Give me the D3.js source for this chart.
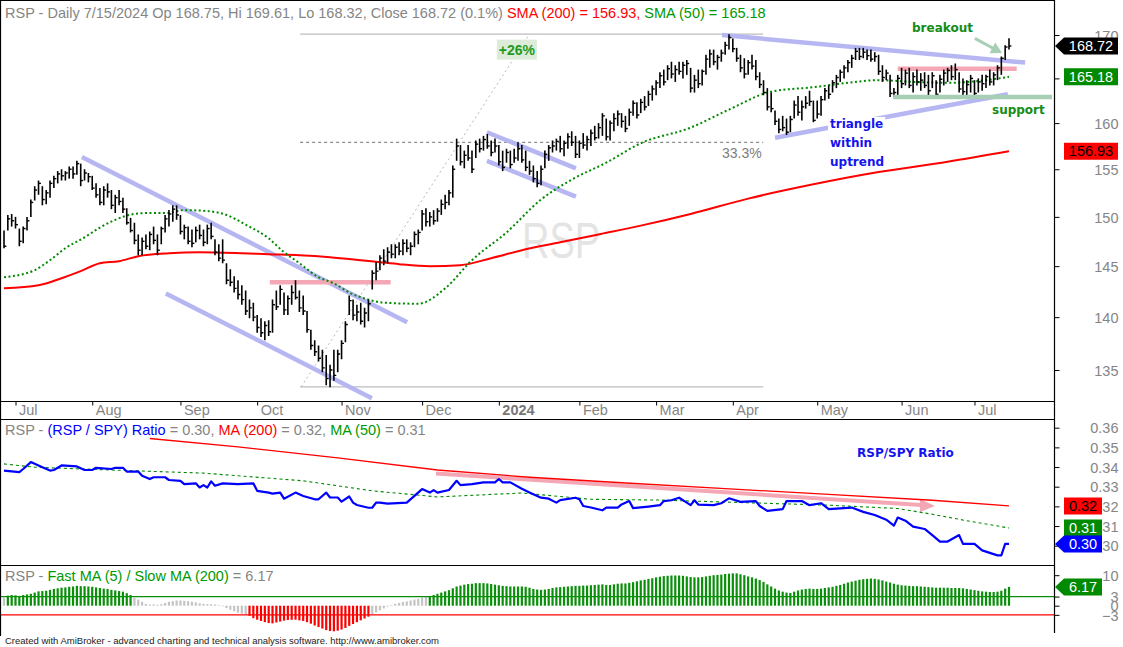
<!DOCTYPE html>
<html>
<head>
<meta charset="utf-8">
<title>RSP Daily</title>
<script src="https://cdn.jsdelivr.net/npm/d3@7"></script>
<style>
  body { margin: 0; background: #fff; }
  svg text { font-family: "Liberation Sans", Arial, sans-serif; }
  .note { font-family: "DejaVu Sans", Verdana, sans-serif; font-weight: bold; font-size: 12px; }
</style>
</head>
<body>
<svg id="chart" width="1123" height="647"></svg>
<script>
// ---------- data ----------
// bar index 0 = 6/28/2023 ... 262 = 7/15/2024
const monthStart = [3, 23, 46, 66, 88, 109, 129, 150, 170, 190, 212, 234, 253];
const monthLabels = ['Jul', 'Aug', 'Sep', 'Oct', 'Nov', 'Dec', '2024', 'Feb', 'Mar', 'Apr', 'May', 'Jun', 'Jul'];

const barHigh = [
  148.6,150.2,150.3,150.0,148.8,149.0,150.0,151.8,153.2,153.8,
  153.2,152.8,153.8,154.3,154.8,155.0,154.8,155.3,155.3,155.9,
  155.6,155.0,154.6,154.3,153.5,153.0,153.2,153.5,152.8,152.3,
  152.8,152.0,150.9,149.9,149.4,148.2,147.9,148.2,148.5,149.0,
  148.2,149.0,150.2,150.7,151.2,151.2,150.2,149.2,149.0,148.7,
  149.0,149.2,148.7,149.2,149.4,147.7,147.2,147.7,145.3,144.7,
  144.0,143.6,143.1,142.6,141.7,141.4,140.2,139.9,139.6,139.7,
  141.7,142.6,143.1,142.4,142.1,143.1,143.6,142.6,142.1,140.6,
  138.8,137.8,137.3,136.9,136.4,135.5,136.9,136.9,137.8,139.6,
  142.1,141.7,141.2,141.4,140.9,141.7,144.6,145.4,146.1,146.7,
  146.9,147.2,147.2,147.4,147.7,147.7,147.4,148.5,148.7,150.7,
  150.9,150.5,150.7,150.9,151.8,152.3,152.8,155.4,158.3,157.6,
  157.0,157.6,157.0,158.1,158.3,158.6,158.8,158.1,158.3,157.6,
  157.0,157.2,157.0,157.2,157.9,157.6,157.0,155.9,155.4,154.8,
  155.4,157.0,157.6,158.1,158.3,158.6,158.1,158.9,159.1,158.6,
  158.1,158.9,158.6,159.3,159.7,160.0,161.1,160.5,160.3,161.1,
  161.4,161.1,160.8,161.6,162.5,162.3,162.7,163.0,163.6,164.2,
  164.8,165.7,166.0,166.5,166.9,166.5,166.9,166.9,167.1,166.2,
  165.4,166.0,166.0,167.7,168.3,168.3,167.7,168.3,169.2,170.1,
  169.6,168.5,167.7,167.3,167.1,167.7,167.1,165.7,164.8,163.9,
  163.4,161.4,160.5,160.8,160.5,160.8,162.5,163.0,162.5,163.0,
  163.6,162.5,162.5,163.0,163.9,164.2,164.8,165.4,166.0,166.5,
  167.1,167.7,168.5,168.5,168.5,168.3,168.3,168.0,167.7,166.5,
  166.0,165.4,163.9,165.4,166.2,166.0,166.2,165.7,166.0,165.6,
  165.7,165.4,165.7,164.8,165.4,166.0,166.2,166.5,166.7,165.7,
  165.0,164.8,165.4,164.8,165.0,165.4,165.4,166.0,165.7,166.5,
  167.5,168.8,169.61
];
const barLow = [
  146.8,148.6,149.0,148.8,147.0,147.3,148.6,150.0,151.7,152.3,
  151.2,151.3,152.0,153.0,153.5,153.8,153.8,154.0,154.0,154.4,
  153.2,153.8,153.6,152.8,152.0,151.2,151.2,152.0,150.8,150.4,
  151.2,150.4,149.2,148.4,147.2,146.1,146.1,146.7,146.6,147.2,
  146.1,147.2,148.4,149.0,149.5,149.7,148.2,147.7,147.2,146.9,
  147.4,147.7,147.0,147.2,147.7,146.1,145.5,145.3,143.2,143.0,
  142.4,141.7,141.2,140.2,139.9,139.6,138.5,138.1,137.8,138.2,
  138.5,140.7,141.2,140.2,140.2,141.2,141.7,140.5,140.2,138.5,
  136.9,136.3,135.8,134.8,133.6,133.4,134.0,134.8,136.0,137.6,
  140.2,139.7,139.6,139.3,139.0,139.6,142.7,143.6,144.6,145.1,
  145.3,145.8,145.8,146.1,146.1,146.4,146.1,146.9,147.2,148.6,
  149.0,149.0,149.2,149.5,150.2,150.8,151.2,152.0,155.9,155.4,
  155.1,155.9,154.6,156.2,156.8,157.0,157.2,156.4,156.8,155.4,
  154.8,155.7,155.1,155.7,155.9,155.7,154.8,154.4,153.6,153.1,
  153.3,155.1,155.9,156.8,157.0,156.8,156.4,157.2,157.5,156.2,
  156.2,157.2,157.0,157.5,158.1,158.3,158.6,158.1,158.1,159.1,
  159.7,159.5,159.0,159.7,160.8,160.5,161.1,161.4,161.9,162.5,
  163.1,163.9,164.2,164.8,165.0,164.6,165.4,165.0,165.4,163.4,
  163.4,163.9,164.2,165.4,166.2,166.5,166.0,166.9,167.7,168.3,
  168.0,166.9,165.7,165.0,165.4,166.0,164.8,163.9,163.1,161.4,
  161.2,159.8,158.9,159.1,158.7,159.0,160.5,160.8,160.3,161.6,
  161.9,160.1,160.5,160.8,162.5,162.7,163.4,163.9,164.6,165.0,
  165.7,166.2,167.1,167.1,167.3,167.1,166.9,166.9,165.4,164.6,
  164.8,162.9,162.9,163.1,163.9,164.2,163.9,163.4,164.2,163.6,
  163.9,163.1,163.9,162.9,163.4,164.2,164.6,164.8,164.8,163.4,
  163.1,162.9,163.4,162.9,163.4,163.6,163.9,164.2,164.2,164.8,
  165.4,167.1,168.32
];
const barClose = [
  147.0,149.8,149.6,149.2,147.5,148.8,149.6,151.5,152.8,153.5,
  151.8,152.5,153.5,154.0,154.5,154.3,154.6,155.0,154.5,155.6,
  153.8,154.6,154.2,153.0,152.3,151.5,152.8,152.6,151.2,152.0,
  151.6,150.8,149.4,148.6,147.6,146.6,147.5,147.0,148.2,147.6,
  146.6,148.8,149.8,150.3,150.8,150.2,148.5,148.9,147.5,147.3,
  148.6,148.1,147.4,148.8,148.0,146.4,145.8,145.6,143.6,143.4,
  142.8,142.2,141.7,140.6,140.9,140.0,139.0,138.5,139.2,138.6,
  141.2,141.0,142.7,140.7,141.8,142.4,141.9,140.9,140.6,138.8,
  137.3,136.7,136.1,135.2,134.2,135.0,134.5,136.5,137.5,139.3,
  141.6,140.2,140.5,139.6,140.4,141.3,144.3,144.5,145.8,145.5,
  146.4,146.2,146.9,146.5,147.3,146.8,147.0,148.2,148.4,150.3,
  149.5,150.0,149.6,150.6,151.3,151.5,152.5,155.0,157.5,155.8,
  156.5,156.2,155.0,157.7,157.2,158.2,157.5,156.8,157.5,155.8,
  155.2,156.8,155.5,156.2,157.2,156.0,155.2,154.8,154.0,153.5,
  155.0,156.6,157.3,157.5,158.0,157.2,157.8,158.5,157.9,156.6,
  157.8,157.6,158.2,158.9,158.4,159.5,160.8,158.5,160.0,160.5,
  161.0,160.2,159.4,161.2,162.2,160.9,162.3,161.8,163.2,163.8,
  164.5,165.3,164.6,166.1,165.5,166.0,165.8,166.5,166.7,163.9,
  164.8,164.4,165.8,167.2,167.8,166.9,167.4,167.9,168.8,169.7,
  168.4,167.3,166.2,165.5,166.8,166.4,165.2,164.3,163.4,161.8,
  161.6,160.2,159.3,159.5,159.0,160.4,162.0,161.2,161.8,162.2,
  162.4,160.3,161.0,162.6,163.6,163.2,164.5,165.1,165.7,166.2,
  166.8,167.3,168.1,167.5,168.0,167.6,167.2,167.5,165.8,165.1,
  165.6,163.3,163.4,165.0,164.4,165.6,164.2,165.2,164.6,164.8,
  164.2,163.6,165.3,163.2,164.9,165.6,165.9,165.2,166.0,163.8,
  163.5,164.3,165.0,163.3,164.6,164.4,165.2,164.6,165.4,166.2,
  167.3,168.6,168.72
];

// moving averages on the price pane, sampled at bar indices
const sma200Idx = [0, 9, 15, 20, 25, 30, 35, 43, 51, 62, 69, 77, 85, 93, 98, 103, 111, 119, 127, 135, 145, 155, 166, 179, 194, 211, 228, 246, 262];
const sma200Val = [142.8, 143.1, 143.8, 144.5, 145.3, 145.5, 146.0, 146.3, 146.4, 146.3, 146.2, 146.1, 145.9, 145.6, 145.4, 145.2, 145.0, 145.1, 145.8, 146.6, 147.4, 148.2, 149.1, 150.3, 151.9, 153.4, 154.7, 155.8, 156.93];
const sma50Idx = [0, 8, 12, 16, 21, 25, 29, 34, 38, 42, 47, 53, 58, 63, 69, 73, 77, 82, 86, 90, 95, 99, 108, 115, 122, 131, 140, 148, 157, 166, 179, 189, 200, 211, 220, 228, 237, 246, 254, 262];
const sma50Val = [143.9, 144.6, 145.6, 146.8, 147.9, 148.9, 149.7, 150.3, 150.4, 150.4, 150.7, 150.6, 150.2, 149.2, 147.8, 146.4, 145.3, 143.9, 143.3, 142.4, 141.7, 141.4, 141.3, 142.8, 145.6, 148.4, 151.8, 153.9, 155.7, 157.8, 159.5, 161.5, 163.5, 164.0, 164.5, 164.8, 164.6, 164.5, 164.7, 165.18];

// RSP / SPY ratio pane
const ratioIdx = [0,4,5,7,10,12,13,15,19,21,23,24,28,29,31,32,35,36,38,39,42,43,46,47,50,51,52,53,54,55,57,61,65,66,69,70,72,73,76,78,81,82,84,85,87,88,90,91,92,95,96,97,98,100,105,107,109,111,112,113,116,118,119,122,125,128,129,130,132,135,137,140,142,144,145,149,150,151,153,156,157,160,161,163,164,168,171,172,174,176,178,179,180,181,185,187,189,192,196,197,199,203,204,208,210,213,215,219,221,224,227,230,232,233,235,237,240,242,244,246,249,250,253,255,259,260,261,262];
const ratioVal = [0.3382,0.3374,0.3390,0.3425,0.3399,0.3382,0.3385,0.3408,0.3403,0.3385,0.3385,0.3396,0.3390,0.3396,0.3396,0.3377,0.3377,0.3356,0.3339,0.3348,0.3348,0.3334,0.3330,0.3313,0.3317,0.3296,0.3308,0.3296,0.3327,0.3305,0.3317,0.3313,0.3317,0.3279,0.3270,0.3265,0.3270,0.3239,0.3270,0.3253,0.3236,0.3236,0.3270,0.3245,0.3245,0.3224,0.3250,0.3219,0.3207,0.3193,0.3193,0.3219,0.3219,0.3214,0.3219,0.3253,0.3288,0.3270,0.3283,0.3270,0.3283,0.3330,0.3308,0.3313,0.3322,0.3322,0.3339,0.3322,0.3322,0.3290,0.3270,0.3244,0.3239,0.3219,0.3232,0.3244,0.3236,0.3202,0.3194,0.3180,0.3194,0.3194,0.3210,0.3227,0.3191,0.3199,0.3206,0.3227,0.3231,0.3244,0.3219,0.3206,0.3231,0.3209,0.3206,0.3216,0.3241,0.3223,0.3227,0.3202,0.3177,0.3186,0.3227,0.3227,0.3206,0.3216,0.3186,0.3191,0.3194,0.3172,0.3156,0.3132,0.3102,0.3143,0.3127,0.3097,0.3085,0.3054,0.3021,0.3021,0.3054,0.3009,0.3009,0.2976,0.2951,0.2951,0.3009,0.3009];
const ratioMa200Idx = [38, 61, 87, 113, 137, 161, 188, 215, 242, 262];
const ratioMa200Val = [0.3545, 0.3502, 0.3447, 0.3385, 0.3348, 0.3320, 0.3290, 0.3261, 0.3231, 0.3202];
const ratioMa50Idx = [0, 8, 25, 52, 78, 96, 113, 135, 153, 171, 198, 215, 233, 242, 251, 262];
const ratioMa50Val = [0.3416, 0.3399, 0.3387, 0.3369, 0.3330, 0.3279, 0.3248, 0.3268, 0.3236, 0.3232, 0.3216, 0.3206, 0.3189, 0.3160, 0.3127, 0.3090];

// Fast MA(5) / Slow MA(200), percent
const oscVal = [
  2.6,3.3,3.5,3.4,3.2,3.5,3.7,3.9,4.3,4.7,
  4.8,4.9,5.2,5.5,5.7,5.9,6.0,6.2,6.3,6.5,
  6.4,6.4,6.3,6.2,6.0,5.8,5.6,5.5,5.2,5.0,
  4.8,4.6,4.1,3.5,2.6,2.0,1.3,0.6,0.4,0.4,
  0.3,0.5,0.9,1.3,1.5,1.7,1.7,1.6,1.5,1.3,
  1.1,0.8,0.6,0.5,0.5,0.4,0.2,-0.2,-0.8,-1.3,
  -1.8,-2.3,-2.6,-2.9,-3.3,-4.1,-4.6,-5.0,-5.4,-5.7,
  -5.8,-5.5,-5.2,-4.9,-4.7,-4.6,-4.6,-4.8,-5.0,-5.4,
  -5.9,-6.5,-7.0,-7.5,-8.0,-8.3,-8.4,-8.2,-7.8,-7.3,
  -6.6,-6.0,-5.4,-4.8,-4.2,-3.6,-2.9,-2.2,-1.5,-0.9,
  -0.3,0.2,0.6,0.9,1.2,1.4,1.7,2.0,2.3,2.7,
  2.9,3.2,3.5,3.9,4.3,4.7,5.1,5.7,6.3,6.6,
  6.9,7.1,7.2,7.4,7.4,7.4,7.3,7.1,6.9,6.7,
  6.5,6.4,6.3,6.3,6.3,6.3,6.2,5.9,5.5,5.3,
  5.2,5.3,5.5,5.8,6.0,6.1,6.2,6.3,6.4,6.5,
  6.5,6.6,6.6,6.7,6.8,6.9,7.0,6.8,6.8,7.0,
  7.2,7.3,7.3,7.5,7.7,8.0,8.3,8.5,8.8,9.0,
  9.3,9.5,9.7,9.8,9.9,9.9,9.9,9.8,9.6,9.4,
  9.3,9.3,9.4,9.6,9.8,10.0,10.1,10.2,10.4,10.5,
  10.6,10.6,10.3,10.0,9.6,9.3,8.9,8.4,7.8,7.0,
  6.3,5.6,5.0,4.6,4.3,4.2,4.6,5.0,5.3,5.5,
  5.6,5.5,5.5,5.6,5.8,6.0,6.2,6.5,6.8,7.2,
  7.6,7.9,8.2,8.5,8.7,8.8,8.9,8.8,8.6,8.3,
  7.9,7.6,7.2,6.9,6.7,6.6,6.5,6.4,6.4,6.3,
  6.2,6.1,6.0,5.9,5.9,5.9,5.9,5.8,5.8,5.8,
  5.7,5.5,5.3,5.1,4.9,4.7,4.6,4.5,4.5,4.6,
  4.9,5.6,6.17
];
const oscLevels = [3, -3];

// drawn studies: [index1, price1, index2, price2]
const channelLines = [
  [20.3, 156.3, 105.1, 139.5],
  [42.2, 142.3, 95.9, 132.4],
  [125.9, 159.0, 149.1, 155.1],
  [125.9, 155.9, 149.1, 152.1],
  [187.2, 170.0, 266.2, 166.8],
  [201.0, 158.4, 261.7, 163.2]
];
const resistLines = [[69.3, 100.8, 143.4], [233, 264, 166.1]];   // [from, to, price]
const supportLine = [231.8, 273.2, 162.9];
const fibSpan = [77.2, 197.9], fibLow = 133.45, fibHigh = 170.1, fibLevel = 33.3;
const measureLine = [77.5, 133.45, 137, 170.1];
const breakoutArrow = [253.1, 169.6, 260.2, 167.9];
const ratioArrow = [112.6, 0.3367, 242.7, 0.3202];

const priceTicks = [135, 140, 145, 150, 155, 160, 165, 170];
const ratioTicks = [0.30, 0.31, 0.32, 0.33, 0.34, 0.35, 0.36];
const oscTicks = [10, 3, 0, -3];

// ---------- layout ----------
const plotRight = 1054;
const pane1 = {top: 0, bottom: 401.5};
const stripBottom = 419.5;
const pane2 = {top: 419.5, bottom: 565.5};
const pane3 = {top: 565.5, bottom: 636};

const svg = d3.select('#chart');
const gray = '#858585';

const x = d3.scaleLinear().domain([0, 262]).range([4, 1009]);
const yPrice = d3.scaleLog().domain([135, 170]).range([370, 35]);
const yRatio = d3.scaleLinear().domain([0.30, 0.36]).range([545.7, 427.7]);
const yOsc = d3.scaleLinear().domain([0, 10]).range([605.7, 575.2]);

const defs = svg.append('defs');
[['clip1', pane1], ['clip2', pane2], ['clip3', pane3]].forEach(([id, p]) => {
  defs.append('clipPath').attr('id', id).append('rect')
    .attr('x', 1).attr('y', p.top).attr('width', plotRight - 1).attr('height', p.bottom - p.top);
});

// ---------- price pane ----------
const g1 = svg.append('g').attr('clip-path', 'url(#clip1)');

// watermark
g1.append('text')
  .attr('x', 522).attr('y', 258)
  .attr('textLength', 78).attr('lengthAdjust', 'spacingAndGlyphs')
  .style('font-size', '50px').attr('fill', '#e4e4e4')
  .text('RSP');

// retracement lines
const fibMid = fibHigh - fibLevel / 100 * (fibHigh - fibLow);
[[fibHigh, '#bdbdbd', null], [fibLow, '#bdbdbd', null], [fibMid, '#8c8c8c', '3,3']].forEach(([p, c, dash]) => {
  g1.append('line')
    .attr('x1', x(fibSpan[0])).attr('x2', x(fibSpan[1]))
    .attr('y1', yPrice(p)).attr('y2', yPrice(p))
    .attr('stroke', c).attr('stroke-width', 1.2)
    .attr('stroke-dasharray', dash);
});
g1.append('line')
  .attr('x1', x(measureLine[0])).attr('y1', yPrice(measureLine[1]))
  .attr('x2', x(measureLine[2])).attr('y2', yPrice(measureLine[3]))
  .attr('stroke', '#b8b8b8').attr('stroke-width', 1).attr('stroke-dasharray', '2,3');

// channel / triangle lines
g1.selectAll('.chan').data(channelLines).join('line')
  .attr('class', 'chan')
  .attr('x1', d => x(d[0])).attr('y1', d => yPrice(d[1]))
  .attr('x2', d => x(d[2])).attr('y2', d => yPrice(d[3]))
  .attr('stroke', '#b6b6f3').attr('stroke-width', 4.5);

g1.selectAll('.resist').data(resistLines).join('line')
  .attr('class', 'resist')
  .attr('x1', d => x(d[0])).attr('x2', d => x(d[1]))
  .attr('y1', d => yPrice(d[2])).attr('y2', d => yPrice(d[2]))
  .attr('stroke', '#f4a7b5').attr('stroke-width', 4.5);

svg.append('line')
  .attr('x1', x(supportLine[0])).attr('x2', Math.min(x(supportLine[1]), plotRight - 2))
  .attr('y1', yPrice(supportLine[2])).attr('y2', yPrice(supportLine[2]))
  .attr('stroke', '#a7cfb5').attr('stroke-width', 4.5);

// moving averages
const priceLine = d3.line().curve(d3.curveMonotoneX);
g1.append('path')
  .attr('d', priceLine(d3.zip(sma200Idx, sma200Val).map(([i, v]) => [x(i), yPrice(v)])))
  .attr('fill', 'none').attr('stroke', '#ff0000').attr('stroke-width', 2);
g1.append('path')
  .attr('d', priceLine(d3.zip(sma50Idx, sma50Val).map(([i, v]) => [x(i), yPrice(v)])))
  .attr('fill', 'none').attr('stroke', '#008a00').attr('stroke-width', 2)
  .attr('stroke-dasharray', '2,2.5');

// OHLC bars
const bars = barClose.map((c, i) => ({i, h: barHigh[i], l: barLow[i], c}));
g1.selectAll('.hl').data(bars).join('line')
  .attr('class', 'hl')
  .attr('x1', d => x(d.i)).attr('x2', d => x(d.i))
  .attr('y1', d => yPrice(d.h)).attr('y2', d => yPrice(d.l))
  .attr('stroke', '#000').attr('stroke-width', 1.6);
g1.selectAll('.cl').data(bars).join('line')
  .attr('class', 'cl')
  .attr('x1', d => x(d.i)).attr('x2', d => x(d.i) + 2.4)
  .attr('y1', d => yPrice(d.c)).attr('y2', d => yPrice(d.c))
  .attr('stroke', '#000').attr('stroke-width', 1.4);

// annotations
const gainBox = g1.append('g').attr('transform', `translate(${x(133.7)},${yPrice(168.3)})`);
gainBox.append('rect').attr('x', -20).attr('y', -10).attr('width', 40).attr('height', 20).attr('fill', '#dcecd8');
gainBox.append('text').attr('text-anchor', 'middle').attr('dy', '0.36em')
  .style('font-size', '14px').style('font-weight', 'bold').attr('fill', '#1f9a1f').text('+26%');

g1.append('text').attr('x', 722).attr('y', yPrice(fibMid) + 16)
  .style('font-size', '14px').attr('fill', '#7d7d7d').text(fibLevel + '%');

const triText = ['triangle', 'within', 'uptrend'];
triText.forEach((t, k) => {
  const tx = g1.append('text').attr('class', 'note')
    .attr('x', 830).attr('y', 128 + k * 19).attr('fill', '#1414ee').text(t);
  const bb = tx.node().getBBox();
  g1.insert('rect', () => tx.node())
    .attr('x', bb.x - 2).attr('y', bb.y).attr('width', bb.width + 4).attr('height', bb.height)
    .attr('fill', '#fff');
});

svg.append('text').attr('class', 'note').attr('x', 912).attr('y', 32).attr('fill', '#158c15').text('breakout');
svg.append('text').attr('class', 'note').attr('x', 992).attr('y', 114).attr('fill', '#158c15').text('support');

const arrowColor = '#a7cfb5';
const [ax1, ay1, ax2, ay2] = [x(breakoutArrow[0]), yPrice(breakoutArrow[1]), x(breakoutArrow[2]), yPrice(breakoutArrow[3])];
const ang = Math.atan2(ay2 - ay1, ax2 - ax1);
svg.append('line').attr('x1', ax1).attr('y1', ay1)
  .attr('x2', ax2 - 7 * Math.cos(ang)).attr('y2', ay2 - 7 * Math.sin(ang))
  .attr('stroke', arrowColor).attr('stroke-width', 3);
svg.append('polygon')
  .attr('points', [[ax2, ay2],
    [ax2 - 11 * Math.cos(ang) + 6 * Math.sin(ang), ay2 - 11 * Math.sin(ang) - 6 * Math.cos(ang)],
    [ax2 - 11 * Math.cos(ang) - 6 * Math.sin(ang), ay2 - 11 * Math.sin(ang) + 6 * Math.cos(ang)]].join(' '))
  .attr('fill', arrowColor);

// ---------- ratio pane ----------
const g2 = svg.append('g').attr('clip-path', 'url(#clip2)');
const lin = d3.line();

const [rx1, ry1, rx2, ry2] = [x(ratioArrow[0]), yRatio(ratioArrow[1]), x(ratioArrow[2]), yRatio(ratioArrow[3])];
g2.append('line').attr('x1', rx1).attr('y1', ry1).attr('x2', rx2 - 14).attr('y2', ry2 - 0.9)
  .attr('stroke', '#f4a7b5').attr('stroke-width', 4);
g2.append('polygon')
  .attr('points', [[rx2, ry2], [rx2 - 15, ry2 - 7], [rx2 - 15, ry2 + 6]].join(' '))
  .attr('fill', '#f4a7b5');

g2.append('path')
  .attr('d', lin(d3.zip(ratioMa200Idx, ratioMa200Val).map(([i, v]) => [x(i), yRatio(v)])))
  .attr('fill', 'none').attr('stroke', '#ff0000').attr('stroke-width', 1.3);
g2.append('path')
  .attr('d', lin(d3.zip(ratioMa50Idx, ratioMa50Val).map(([i, v]) => [x(i), yRatio(v)])))
  .attr('fill', 'none').attr('stroke', '#008a00').attr('stroke-width', 1.1).attr('stroke-dasharray', '3,3');
g2.append('path')
  .attr('d', lin(d3.zip(ratioIdx, ratioVal).map(([i, v]) => [x(i), yRatio(v)])))
  .attr('fill', 'none').attr('stroke', '#0000ff').attr('stroke-width', 2.2).attr('stroke-linejoin', 'round');

g2.append('text').attr('class', 'note').attr('x', 857).attr('y', 457).attr('fill', '#1414ee').text('RSP/SPY Ratio');

// ---------- oscillator pane ----------
const g3 = svg.append('g').attr('clip-path', 'url(#clip3)');
g3.selectAll('.osc').data(oscVal).join('rect')
  .attr('class', 'osc')
  .attr('x', (d, i) => x(i) - 1.1).attr('width', 2.2)
  .attr('y', d => Math.min(yOsc(d), yOsc(0)))
  .attr('height', d => Math.abs(yOsc(d) - yOsc(0)))
  .attr('fill', d => d > 3 ? '#0a8f0a' : (d < -3 ? '#ff0000' : '#c4c4c4'));
svg.selectAll('.lvl').data(oscLevels).join('line')
  .attr('class', 'lvl')
  .attr('x1', 1).attr('x2', plotRight)
  .attr('y1', d => yOsc(d)).attr('y2', d => yOsc(d))
  .attr('stroke', d => d > 0 ? '#0a8f0a' : '#ff0000').attr('stroke-width', 1.3);

// ---------- frames ----------
const frame = [
  [0, 0.5, plotRight, 0.5],
  [0.5, 0, 0.5, pane3.bottom],
  [plotRight + 0.5, 0, plotRight + 0.5, 633],
  [0, pane1.bottom, plotRight, pane1.bottom],
  [0, stripBottom, plotRight, stripBottom],
  [0, pane2.bottom, plotRight, pane2.bottom]
];
svg.selectAll('.frame').data(frame).join('line')
  .attr('class', 'frame')
  .attr('x1', d => d[0]).attr('y1', d => d[1]).attr('x2', d => d[2]).attr('y2', d => d[3])
  .attr('stroke', '#000').attr('stroke-width', 1.2);

// ---------- axes ----------
function styleAxis(g, size) {
  g.attr('font-size', null).attr('font-family', null);
  g.select('.domain').remove();
  g.selectAll('line').attr('stroke', '#000');
  g.selectAll('text').attr('fill', gray).style('font-size', size);
}

const dateAxis = svg.append('g')
  .attr('transform', `translate(0,${pane1.bottom})`)
  .call(d3.axisBottom(x).tickValues(monthStart).tickSize(4).tickSizeOuter(0)
    .tickFormat((d, k) => monthLabels[k]));
styleAxis(dateAxis, '14.5px');
dateAxis.selectAll('text').attr('x', 3).attr('y', 13.5).attr('dy', 0).attr('text-anchor', 'start')
  .style('font-weight', d => d === 129 ? 'bold' : null)
  .attr('fill', d => d === 129 ? '#777' : gray);

function rightAxis(scale, ticks, fmt) {
  const g = svg.append('g').attr('transform', `translate(${plotRight + 0.5},0)`)
    .call(d3.axisRight(scale).tickValues(ticks).tickSize(5).tickFormat(fmt));
  styleAxis(g, '14.5px');
  g.selectAll('text').attr('x', 64).attr('text-anchor', 'end').attr('dy', '0.36em');
  return g;
}
rightAxis(yPrice, priceTicks, d3.format('d'));
rightAxis(yRatio, ratioTicks, d3.format('.2f'));
rightAxis(yOsc, oscTicks, d3.format('d'));

// value badges
function badge(yc, label, fill, color, arrow, right) {
  const h = 17, left = 1064;
  const pts = arrow
    ? [[plotRight + 1, yc], [left, yc - h / 2], [right, yc - h / 2], [right, yc + h / 2], [left, yc + h / 2]]
    : [[left, yc - h / 2], [right, yc - h / 2], [right, yc + h / 2], [left, yc + h / 2]];
  svg.append('polygon').attr('points', pts.join(' ')).attr('fill', fill);
  svg.append('text').attr('x', (left + right) / 2).attr('y', yc).attr('dy', '0.36em')
    .attr('text-anchor', 'middle').attr('fill', color).style('font-size', '14.5px').text(label);
}
const last = arr => arr[arr.length - 1];
badge(yPrice(last(barClose)), last(barClose).toFixed(2), '#000', '#fff', true, 1118);
badge(yPrice(last(sma50Val)), last(sma50Val).toFixed(2), '#008a00', '#fff', false, 1118);
badge(yPrice(last(sma200Val)), last(sma200Val).toFixed(2), '#ff0000', '#000', false, 1118);
badge(yRatio(last(ratioMa200Val)), last(ratioMa200Val).toFixed(2), '#ff0000', '#000', false, 1102);
badge(yRatio(last(ratioMa50Val)), last(ratioMa50Val).toFixed(2), '#008a00', '#fff', false, 1102);
badge(yRatio(last(ratioVal)), last(ratioVal).toFixed(2), '#0000ff', '#fff', true, 1102);
badge(yOsc(last(oscVal)), last(oscVal).toFixed(2), '#008a00', '#fff', true, 1102);

// ---------- titles ----------
function title(y, parts) {
  const t = svg.append('text').attr('x', 5).attr('y', y).style('font-size', '14.5px').attr('xml:space', 'preserve');
  parts.forEach(([s, c]) => t.append('tspan').attr('fill', c).text(s));
}
title(17.5, [
  ['RSP - Daily 7/15/2024 Op 168.75, Hi 169.61, Lo 168.32, Close 168.72 (0.1%) ', gray],
  ['SMA (200) = 156.93, ', '#ff0000'],
  ['SMA (50) = 165.18', '#009900']
]);
title(435, [
  ['RSP - ', gray], ['(RSP / SPY) Ratio', '#0000ff'], [' = 0.30, ', gray],
  ['MA (200)', '#ff0000'], [' = 0.32, ', gray], ['MA (50)', '#009900'], [' = 0.31', gray]
]);
title(581, [['RSP - ', gray], ['Fast MA (5) / Slow MA (200)', '#009900'], [' = 6.17', gray]]);

svg.append('text').attr('x', 5).attr('y', 644).style('font-size', '9.5px').attr('fill', '#222')
  .text('Created with AmiBroker - advanced charting and technical analysis software. http://www.amibroker.com');
</script>
</body>
</html>
